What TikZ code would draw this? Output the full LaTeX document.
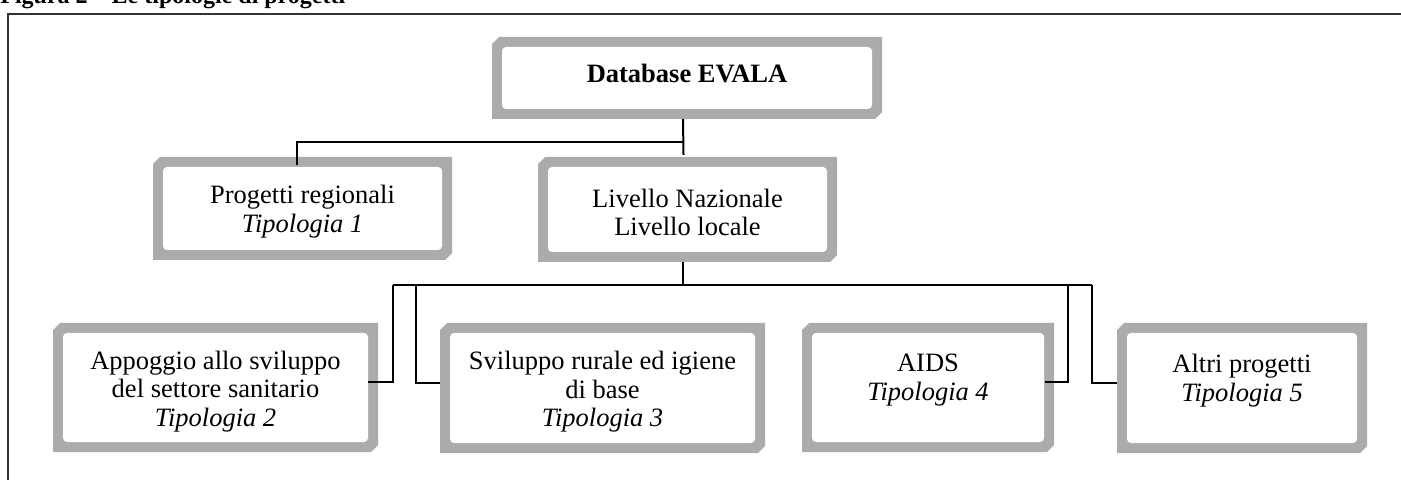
\documentclass[tikz,border=0pt]{standalone}
\usepackage{fontspec}
\setmainfont{Liberation Serif}
\usetikzlibrary{fit}

% Bevelled box: grey band with cut corners (top left, bottom right),
% white inner panel, and a named node spanning the whole box.
% Optional argument: extra options for the text node.
\newcommand\evalabox[7][]{%
  \fill[band] (#3+7,#4) -- (#5,#4) -- (#5,#6-7) -- (#5-7,#6) -- (#3,#6) -- (#3,#4+7) -- cycle;
  \fill[white, rounded corners=2pt] (#3+10,#4+10) rectangle (#5-10,#6-10);
  \node[boxframe, fit={(#3,#4) (#5,#6)}] (#2) {};
  \node[boxtext, #1] (#2-t) at (#2.center) {#7};
}

\begin{document}
\begin{tikzpicture}[x=0.5pt, y=-0.5pt,
  band/.style={fill=black!33},
  boxframe/.style={draw=none, inner sep=0pt, outer sep=0pt},
  boxtext/.style={inner sep=0pt, align=center, font=\fontsize{13.25}{14.2}\selectfont},
  conn/.style={draw=black, line width=1pt},
  frameline/.style={draw=black!80, line width=0.7pt}]
\useasboundingbox (0,0) rectangle (1401,480);

% caption above the frame
\node[anchor=base west, inner sep=0pt, font=\bfseries\fontsize{12}{14}\selectfont] (caption) at (0,4)
  {Figura 2 -- Le tipologie di progetti};

% surrounding frame
\draw[frameline] (1401,14) -- (8,14) -- (8,480);

% boxes
\evalabox[yshift=2pt]{db}{492}{37}{882}{119}{\textbf{Database EVALA}}
\evalabox[yshift=-1.5pt]{prog}{153}{157}{452}{260}{Progetti regionali\\\textit{Tipologia 1}}
\evalabox[yshift=-1.5pt]{liv}{538}{157}{837}{262}{Livello Nazionale\\Livello locale}
\evalabox[yshift=-2pt]{app}{53}{323}{378}{452}{Appoggio allo sviluppo\\del settore sanitario\\\textit{Tipologia 2}}
\evalabox[yshift=-2pt]{svi}{440}{323}{765}{453}{Sviluppo rurale ed igiene\\di base\\\textit{Tipologia 3}}
\evalabox[yshift=-2pt]{aids}{802}{323}{1054}{452}{AIDS\\\textit{Tipologia 4}\\\mbox{}}
\evalabox[yshift=-2pt]{alt}{1117}{323}{1367}{453}{Altri progetti\\\textit{Tipologia 5}\\\mbox{}}

% upper connectors
\coordinate (j1) at (683,142);
\draw[conn] ([xshift=-2pt]db.south) -- ([xshift=-2pt,yshift=1pt]liv.north);
\draw[conn] (j1) -| ([xshift=-2.75pt,yshift=-4pt]prog.north);

% lower bus and branches
\coordinate (busL) at (393,285);
\coordinate (b2) at (416,285);
\coordinate (b3) at (1068,285);
\coordinate (busR) at (1092,285);
\path ([xshift=-2.25pt]liv.south) coordinate (ls);
\draw[conn] (ls) -- (ls |- busL);
\draw[conn] (busL) -- (busR);
\draw[conn] (busL) |- ([xshift=-5pt,yshift=2.75pt]app.east);
\draw[conn] (b2) |- ([yshift=2.75pt]svi.west);
\draw[conn] (b3) |- ([xshift=-4.5pt,yshift=2.75pt]aids.east);
\draw[conn] (busR) |- ([yshift=2.75pt]alt.west);
\end{tikzpicture}
\end{document}
